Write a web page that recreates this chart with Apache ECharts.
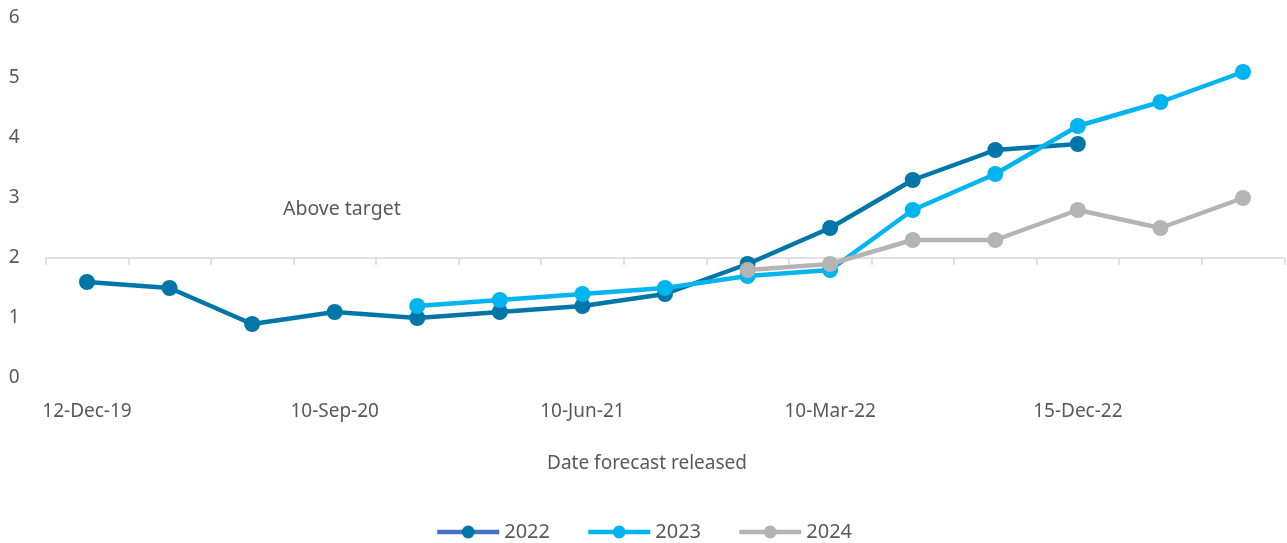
<!DOCTYPE html>
<html>
<head>
<meta charset="utf-8">
<script src="https://cdn.jsdelivr.net/npm/echarts@6/dist/echarts.min.js"></script>
<style>
html,body{margin:0;padding:0;background:#fff;}
#chart{width:1287px;height:543px;}
</style>
</head>
<body>
<div id="chart"></div>
<script>
const categories = ['12-Dec-19','12-Mar-20','11-Jun-20','10-Sep-20','10-Dec-20','11-Mar-21','10-Jun-21','9-Sep-21','9-Dec-21','10-Mar-22','9-Jun-22','8-Sep-22','15-Dec-22','16-Mar-23','15-Jun-23'];
const s2022 = [1.6,1.5,0.9,1.1,1.0,1.1,1.2,1.4,1.9,2.5,3.3,3.8,3.9,null,null];
const s2023 = [null,null,null,null,1.2,1.3,1.4,1.5,1.7,1.8,2.8,3.4,4.2,4.6,5.1];
const s2024 = [null,null,null,null,null,null,null,null,1.8,1.9,2.3,2.3,2.8,2.5,3.0];
const yTicks = [0,1,2,3,4,5,6];

const FONT = 'Noto Sans';
const TXT = '#595959';
const chart = echarts.init(document.getElementById('chart'));
function ser(name, data, color){
  return {name, type:'line', data, xAxisIndex:0, symbol:'circle', symbolSize:16,
    lineStyle:{width:4.5,color}, itemStyle:{color}, connectNulls:false, z:3};
}
chart.setOption({
  animation:false,
  textStyle:{fontFamily:FONT},
  grid:{left:45.7, right:2.7, top:18, bottom:165},
  xAxis:[{
    type:'category', data:categories, boundaryGap:true,
    axisLine:{show:false}, axisTick:{show:false},
    axisLabel:{interval:2, color:TXT, fontSize:19, margin:24, fontFamily:FONT},
    name:'Date forecast released', nameLocation:'middle', nameGap:76,
    nameTextStyle:{color:TXT, fontSize:19, fontFamily:FONT, padding:[0,36,0,0]}
  },{
    type:'category', data:categories, boundaryGap:true, position:'bottom', offset:-120,
    axisLine:{show:true, lineStyle:{color:'#d9d9d9', width:1.5}},
    axisTick:{show:true, interval:0, length:7, lineStyle:{color:'#d9d9d9', width:1.5}},
    axisLabel:{show:false}
  }],
  yAxis:{type:'value', min:0, max:6, interval:1,
    axisLine:{show:false}, axisTick:{show:false}, splitLine:{show:false},
    axisLabel:{color:TXT, fontSize:19, margin:26, fontFamily:FONT}},
  legend:{bottom:1, padding:0, left:'center', itemWidth:62, itemHeight:16, itemGap:36,
    textStyle:{color:TXT, fontSize:20, fontFamily:FONT},
    data:[
      {name:'2022', itemStyle:{color:'#0076a8'}, lineStyle:{color:'#4472c4', width:4.5}},
      {name:'2023', itemStyle:{color:'#00b4f0'}, lineStyle:{color:'#00b4f0', width:4.5}},
      {name:'2024', itemStyle:{color:'#b4b4b4'}, lineStyle:{color:'#b4b4b4', width:4.5}}
    ]},
  graphic:[{type:'text', left:283, top:199, style:{text:'Above target', fill:TXT, font:'19.5px "Noto Sans"'}}],
  series:[ser('2022', s2022, '#0076a8'), ser('2023', s2023, '#00b4f0'), ser('2024', s2024, '#b4b4b4')]
});
</script>
</body>
</html>
